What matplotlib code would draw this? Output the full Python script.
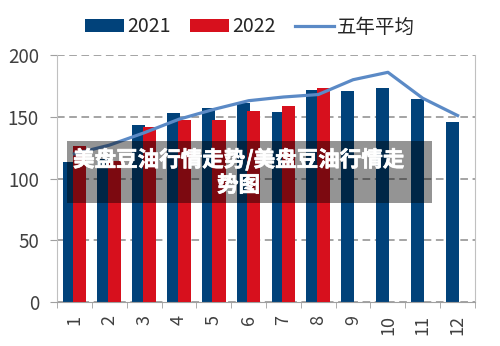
import numpy as np
import matplotlib.pyplot as plt
import matplotlib.patheffects as pe
from matplotlib.patches import Rectangle

plt.rcParams['font.family'] = ['Noto Sans CJK SC', 'DejaVu Sans']

months = ['1', '2', '3', '4', '5', '6', '7', '8', '9', '10', '11', '12']
y2021 = [113, 116, 143, 153, 157, 161, 154, 172, 171, 173, 164, 146]
y2022 = [126, 114, 142, 147, 147, 155, 159, 173]
avg5 = [120, 127, 137, 148, 156, 163, 166, 168, 180, 186, 165, 151]

c21 = '#01427a'
c22 = '#d7101d'
cavg = '#5b8ac6'

fig = plt.figure(figsize=(5, 3.46), dpi=100)
ax = fig.add_axes([0.114, 0.127, 0.836, 0.714])

x = np.arange(1, 13)
w = 0.38
b1 = ax.bar(x - 0.15, y2021, width=w, color=c21, label='2021', zorder=2)
b2 = ax.bar(x[:len(y2022)] + 0.15, y2022, width=w, color=c22, label='2022', zorder=3)
l1, = ax.plot(x, avg5, color=cavg, lw=2.3, label='五年平均', zorder=4)

ax.set_xlim(0.5, 12.5)
ax.set_ylim(0, 200)
ax.set_yticks([0, 50, 100, 150, 200])
ax.set_xticks(x)
ax.set_xticklabels(months, rotation=90)
ax.set_xticks(np.arange(0.5, 13, 1), minor=True)
ax.tick_params(axis='x', which='major', length=0, pad=9, labelsize=13, colors='#404040')
ax.tick_params(axis='x', which='minor', length=4, color='#a0a0a0')
ax.tick_params(axis='y', length=5, color='#a0a0a0', pad=8, labelsize=13.5, labelcolor='#404040')

ax.grid(axis='y', ls=(0, (5, 3)), color='#8c8c8c', lw=1.1, zorder=0)
ax.set_axisbelow(True)
ax.spines['top'].set_visible(False)
for s in ['left', 'right']:
    ax.spines[s].set_color('#c0c0c0')
ax.spines['bottom'].set_color('#a0a0a0')

fig.legend(handles=[b1, b2, l1], loc='center', bbox_to_anchor=(0.5, 0.922), ncol=3,
           frameon=False, fontsize=14, handlelength=2.0, handleheight=0.7,
           handletextpad=0.15, columnspacing=1.0, labelcolor='#262626')

# overlay title box
fig.patches.append(Rectangle((67 / 500, 1 - 203 / 346), 365 / 500, 62 / 346,
                             transform=fig.transFigure, facecolor='black',
                             alpha=0.42, edgecolor='none', zorder=10))
fig.text(0.477, 1 - 172 / 346, '美盘豆油行情走势/美盘豆油行情走\n势图', ha='center', va='center',
         color='white', fontsize=15.5, fontweight='bold', linespacing=1.25, zorder=11,
         path_effects=[pe.withStroke(linewidth=0.5, foreground='white')])

fig.savefig('out.png', dpi=100)
